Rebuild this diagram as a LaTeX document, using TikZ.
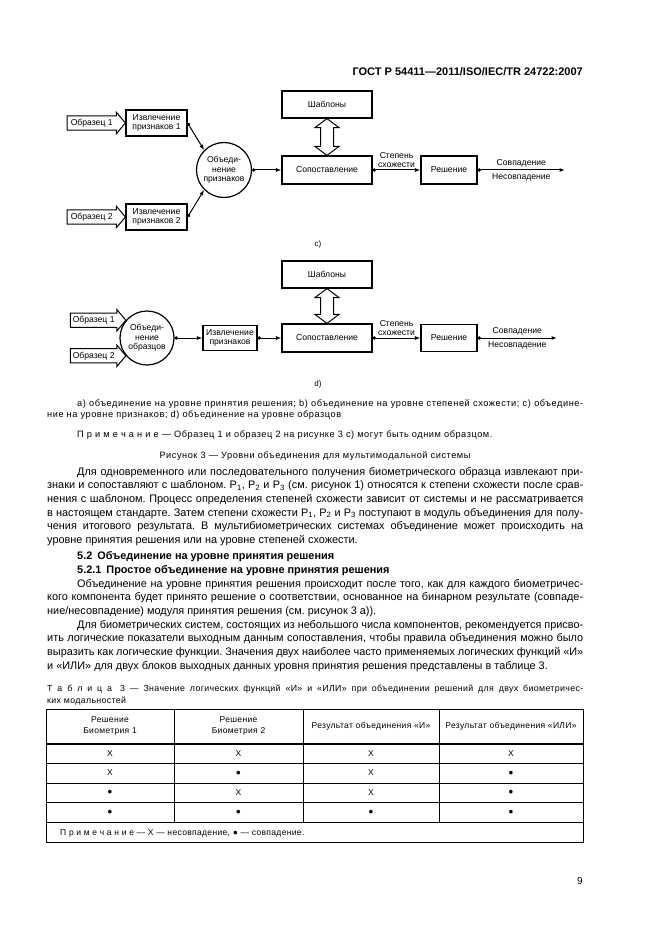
\documentclass[tikz,border=0pt]{standalone}
\usepackage{fontspec}
\setmainfont{Liberation Sans}
\usetikzlibrary{arrows.meta,positioning,calc}
\newcommand\lsp{\addfontfeatures{LetterSpace=4}}
\frenchspacing

\begin{document}
\begin{tikzpicture}[x=1pt, y=-1pt,
  every node/.style={inner sep=0pt},
  blk/.style={draw, line width=1.2pt, align=center, inner sep=1pt, font=\fontsize{8.6}{9.4}\selectfont},
  fusion/.style={draw, circle, line width=1.2pt, align=center, minimum size=55pt, font=\fontsize{8.6}{9.4}\selectfont},
  smp/.style={font=\fontsize{8.6}{9.4}\selectfont, minimum height=14pt, anchor=east},
  lbl/.style={font=\fontsize{8.6}{9.4}\selectfont, align=center},
  outl/.style={line width=1pt, line join=miter},
  conn/.style={line width=1pt, {Circle[length=3.4pt]}-{Latex[length=5.5pt,width=4pt]}},
  body/.style={anchor=base west, text width=536pt, align=justify, font=\fontsize{10.9}{13.7}\selectfont},
  capt/.style={anchor=base west, font=\fontsize{9.2}{11.8}\selectfont\addfontfeatures{LetterSpace=6}},
  tbl/.style={font=\fontsize{8.5}{11}\selectfont\lsp, align=center}]
  \fill[white] (0,0) rectangle (661,936);
  \useasboundingbox (0,0) rectangle (661,936);
  % header
  \node[anchor=base east, font=\bfseries\fontsize{11}{13}\selectfont] (hdr) at (583,76) {ГОСТ Р 54411—2011/ISO/IEC/TR 24722:2007};

  % figure c)
  \node[blk, minimum width=90pt, minimum height=27pt] (tplC) at (327,104.5) {Шаблоны};
  \node[blk, minimum width=90pt, minimum height=28pt] (cmpC) at (327,170) {Сопоставление};
  \node[blk, minimum width=56pt, minimum height=28pt] (decC) at (449,170) {Решение};
  \node[fusion] (fusC) at (224,170) {Объеди-\\нение\\признаков};
  \node[blk, minimum width=61pt, minimum height=26pt] (extC1) at (156.5,123) {Извлечение\\признаков 1};
  \node[blk, minimum width=61pt, minimum height=26pt] (extC2) at (156.5,217) {Извлечение\\признаков 2};
  \node[smp, minimum width=49pt] (smpC1) at ([xshift=-9pt]extC1.west) {Образец 1};
  \node[smp, minimum width=49pt] (smpC2) at ([xshift=-9pt]extC2.west) {Образец 2};
  \draw[outl] (smpC1.north west) -- (smpC1.north east) -- ([yshift=3.5pt]smpC1.north east) -- (extC1.west)
    -- ([yshift=-3.5pt]smpC1.south east) -- (smpC1.south east) -- (smpC1.south west) -- cycle;
  \draw[outl] (smpC2.north west) -- (smpC2.north east) -- ([yshift=3.5pt]smpC2.north east) -- (extC2.west)
    -- ([yshift=-3.5pt]smpC2.south east) -- (smpC2.south east) -- (smpC2.south west) -- cycle;
  \draw[outl] (tplC.south) -- ++(12,9) -- ++(-5.5,0) -- ($(cmpC.north)+(6.5,-9)$) -- ++(5.5,0) -- (cmpC.north)
    -- ++(-12,-9) -- ++(5.5,0) -- ($(tplC.south)+(-6.5,9)$) -- ++(-5.5,0) -- cycle;
  \draw[conn] (extC1.east) -- (fusC.135);
  \draw[conn] (extC2.east) -- (fusC.225);
  \draw[conn] (fusC) -- (cmpC);
  \draw[conn] (cmpC) -- (decC) node[lbl, midway, above=2pt] {Степень\\схожести};
  \coordinate (outC) at (565,170);
  \draw[conn] (decC) -- (outC) node[lbl, midway, above=2.5pt] {Совпадение} node[lbl, midway, below=3pt] {Несовпадение};
  \node[font=\fontsize{8}{9}\selectfont] (capC) at (318,244) {c)};

  % figure d)
  \node[blk, minimum width=90pt, minimum height=27pt] (tplD) at (327,274.5) {Шаблоны};
  \node[blk, minimum width=90pt, minimum height=28pt] (cmpD) at (327,338) {Сопоставление};
  \node[blk, minimum width=56pt, minimum height=27pt] (decD) at (449,338) {Решение};
  \node[fusion, minimum size=54pt] (fusD) at (147,338) {Объеди-\\нение\\образцов};
  \node[blk, minimum width=54pt, minimum height=25pt] (extD) at (230,338) {Извлечение\\признаков};
  \node[smp, minimum width=46pt] (smpD1) at ([xshift=-9pt]fusD.140) {Образец 1};
  \node[smp, minimum width=46pt] (smpD2) at ([xshift=-9pt]fusD.220) {Образец 2};
  \draw[outl] (smpD1.north west) -- (smpD1.north east) -- ([yshift=3.5pt]smpD1.north east) -- (fusD.140)
    -- ([yshift=-3.5pt]smpD1.south east) -- (smpD1.south east) -- (smpD1.south west) -- cycle;
  \draw[outl] (smpD2.north west) -- (smpD2.north east) -- ([yshift=3.5pt]smpD2.north east) -- (fusD.220)
    -- ([yshift=-3.5pt]smpD2.south east) -- (smpD2.south east) -- (smpD2.south west) -- cycle;
  \draw[outl] (tplD.south) -- ++(12,9) -- ++(-5.5,0) -- ($(cmpD.north)+(6.5,-9)$) -- ++(5.5,0) -- (cmpD.north)
    -- ++(-12,-9) -- ++(5.5,0) -- ($(tplD.south)+(-6.5,9)$) -- ++(-5.5,0) -- cycle;
  \draw[conn] (fusD) -- (extD);
  \draw[conn] (extD) -- (cmpD);
  \draw[conn] (cmpD) -- (decD) node[lbl, midway, above=2pt] {Степень\\схожести};
  \coordinate (outD) at (557,338);
  \draw[conn] (decD) -- (outD) node[lbl, midway, above=2.5pt] {Совпадение} node[lbl, midway, below=3pt] {Несовпадение};
  \node[font=\fontsize{8}{9}\selectfont] (capD) at (318,384) {d)};

  % captions
  \node[capt, text width=536pt, align=justify] (figkey) at (47,406) {\hspace*{30pt}а)~объединение на уровне принятия решения; b)~объединение на уровне степеней схожести; c)~объедине-\linebreak ние на уровне признаков; d)~объединение на уровне образцов};
  \node[capt] (fignote) at (77,437) {П р и м е ч а н и е — Образец 1 и образец 2 на рисунке 3 с) могут быть одним образцом.};
  \node[capt, anchor=base] (figtitle) at (315,458) {Рисунок 3 — Уровни объединения для мультимодальной системы};

  % text
  \node[body] (para1) at (47,475) {\hspace*{30pt}Для одновременного или последовательного получения биометрического образца извлекают при-\linebreak знаки и сопоставляют с шаблоном. P\textsubscript{1}, P\textsubscript{2} и P\textsubscript{3} (см. рисунок 1) относятся к степени схожести после срав-\linebreak нения с шаблоном. Процесс определения степеней схожести зависит от системы и не рассматривается\linebreak в настоящем стандарте. Затем степени схожести P\textsubscript{1}, P\textsubscript{2} и P\textsubscript{3} поступают в модуль объединения для полу-\linebreak чения итогового результата. В мультибиометрических системах объединение может происходить на\linebreak уровне принятия решения или на уровне степеней схожести.};
  \node[anchor=base west, font=\bfseries\fontsize{10.9}{13.7}\selectfont] (sec52) at (77,559) {5.2\hspace{5pt}Объединение на уровне принятия решения};
  \node[anchor=base west, font=\bfseries\fontsize{10.9}{13.7}\selectfont] (sec521) at (77,573) {5.2.1\hspace{5pt}Простое объединение на уровне принятия решения};
  \node[body] (para2) at (47,587) {\hspace*{30pt}Объединение на уровне принятия решения происходит после того, как для каждого биометричес-\linebreak кого компонента будет принято решение о соответствии, основанное на бинарном результате (совпаде-\linebreak ние/несовпадение) модуля принятия решения (см. рисунок 3 а)).\par
    \hspace*{30pt}Для биометрических систем, состоящих из небольшого числа компонентов, рекомендуется присво-\linebreak ить логические показатели выходным данным сопоставления, чтобы правила объединения можно было\linebreak выразить как логические функции. Значения двух наиболее часто применяемых логических функций «И»\linebreak и «ИЛИ» для двух блоков выходных данных уровня принятия решения представлены в таблице 3.};

  % table 3
  \node[capt, text width=536pt, align=justify, font=\fontsize{8.8}{12.6}\selectfont\lsp] (tabcap) at (47,691) {Т а б л и ц а\hspace{8pt}3 — Значение логических функций «И» и «ИЛИ» при объединении решений для двух биометричес-\linebreak ких модальностей};
  \draw[line width=0.7pt] (46,709) rectangle (583,842);
  \draw[line width=2pt] (46,743.5) -- (583,743.5);
  \foreach \y in {763.5,783,802.5,822} \draw[line width=0.7pt] (46,\y) -- (583,\y);
  \foreach \x in {174,303,439} \draw[line width=0.7pt] (\x,709) -- (\x,822);
  \node[tbl] (h1) at (110,726) {Решение\\Биометрия 1};
  \node[tbl] (h2) at (238.5,726) {Решение\\Биометрия 2};
  \node[tbl] (h3) at (371,726) {Результат объединения «И»};
  \node[tbl] (h4) at (511,726) {Результат объединения «ИЛИ»};
  \foreach \a/\b/\c/\d [count=\r] in {X/X/X/X, X/●/X/●, ●/X/X/●, ●/●/●/●} {
    \pgfmathsetmacro\yy{734+19.5*\r}
    \node[tbl] (c\r a) at (110,\yy) {\a};
    \node[tbl] (c\r b) at (238.5,\yy) {\b};
    \node[tbl] (c\r c) at (371,\yy) {\c};
    \node[tbl] (c\r d) at (511,\yy) {\d};
  }
  \node[tbl, anchor=base west] (tnote) at (60,835) {П р и м е ч а н и е — X — несовпадение, ● — совпадение.};
  \node[anchor=base east, font=\fontsize{10}{12}\selectfont] (pgno) at (583,884) {9};
\end{tikzpicture}
\end{document}
